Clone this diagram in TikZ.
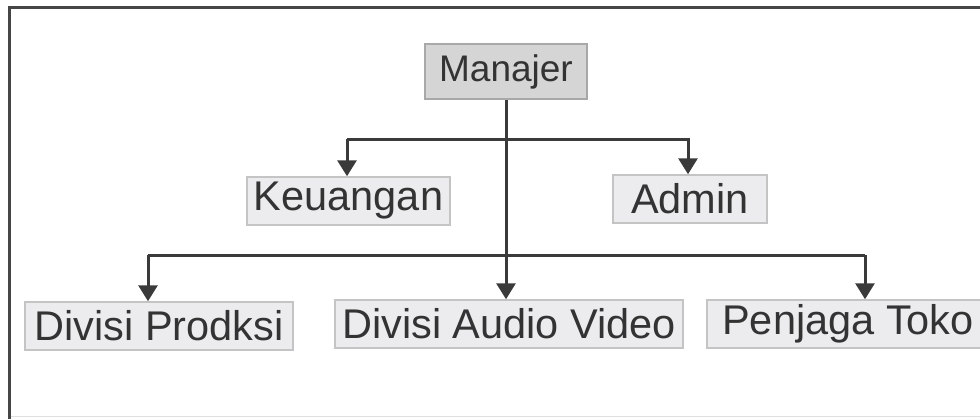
\documentclass[tikz,border=0pt]{standalone}
\usepackage{fontspec}
\setmainfont{Liberation Sans}
\usetikzlibrary{arrows.meta}
\definecolor{framec}{HTML}{464646}
\definecolor{linec}{HTML}{3A3A3A}
\definecolor{txtc}{HTML}{333333}
\definecolor{topfill}{HTML}{D5D5D5}
\definecolor{topdraw}{HTML}{A8A8A8}
\definecolor{boxfill}{HTML}{ECECEE}
\definecolor{boxdraw}{HTML}{C4C4C4}
\begin{document}
\begin{tikzpicture}[x=1pt,y=-1pt,
  topbox/.style={draw=topdraw, line width=1.5pt, fill=topfill, text=txtc,
    minimum width=162pt, minimum height=55pt, inner sep=0pt,
    font=\fontsize{37}{40}\selectfont},
  unitbox/.style={draw=boxdraw, line width=1.5pt, fill=boxfill, text=txtc,
    minimum height=48pt, inner sep=0pt,
    font=\fontsize{41.5}{44}\selectfont},
  conn/.style={draw=linec, line width=3pt},
  arr/.style={conn, -{Triangle[width=19pt,length=16pt]}}]
\useasboundingbox (0,0) rectangle (980,418);
\fill[white] (0,0) rectangle (980,418);
% frame
\draw[framec, line width=3.5pt] (9.5,420) -- (9.5,7.5) -- (982,7.5);
\draw[gray!25, line width=1pt] (11,416) -- (980,416);
% nodes
\node[topbox] (man) at (506,71.5) {Manajer};
\node[unitbox, minimum width=203pt] (keu) at (348.5,201) {Keuangan};
\node[unitbox, minimum width=154pt] (adm) at (690,199) {Admin};
\node[unitbox, minimum width=268pt] (div) at (159,326) {Divisi Prodksi};
\node[unitbox, minimum width=348pt] (aud) at (509,324) {Divisi Audio Video};
\node[unitbox, minimum width=282pt] (pen) at (848,324) {Penjaga Toko};
% junctions
\coordinate (j1) at (506,139);
\coordinate (j2) at (506,255);
% connectors
\draw[arr] (man.south) -- (man.south |- aud.north);
\draw[conn] ([xshift=-1.5pt]keu.north |- j1) -- (j1) -- (adm.north |- j1);
\draw[arr] ([xshift=-1.5pt]keu.north |- j1) -- ([xshift=-1.5pt]keu.north);
\draw[arr] ([xshift=-2pt]adm.north |- j1) -- ([xshift=-2pt]adm.north);
\draw[conn] ([xshift=-11pt]div.north |- j2) -- ([xshift=17pt]pen.north |- j2);
\draw[arr] ([xshift=-11pt]div.north |- j2) -- ([xshift=-11pt]div.north);
\draw[arr] ([xshift=17pt]pen.north |- j2) -- ([xshift=17pt]pen.north);
\end{tikzpicture}
\end{document}
